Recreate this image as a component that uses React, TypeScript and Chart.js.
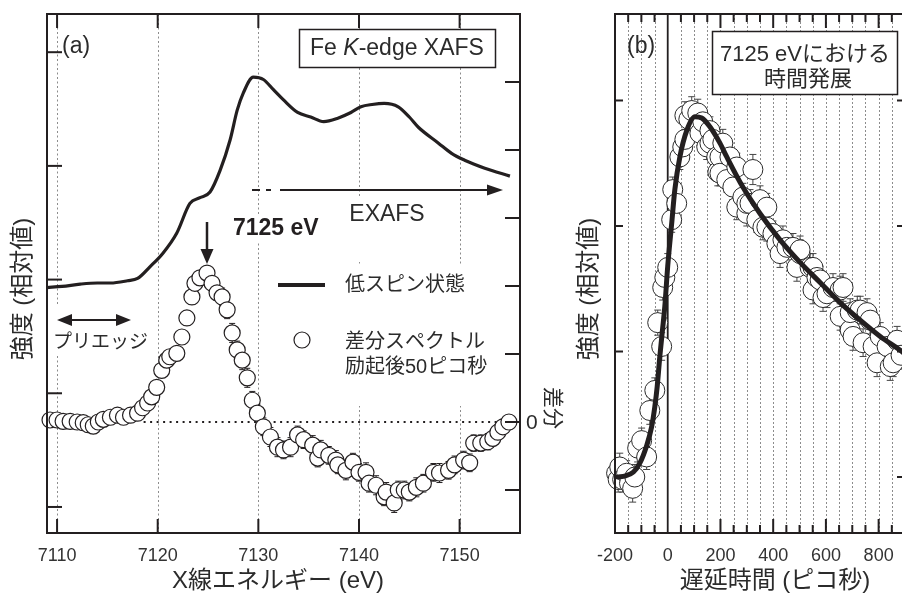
import { useEffect, useRef } from 'react';
import { Chart, registerables } from 'chart.js';

Chart.register(...registerables);

const FAMILY = "'Liberation Sans', 'Noto Sans CJK JP', sans-serif";
const INK = '#231f20';
const GRID = '#8c8c8c';
const TEXT = '#2b2b2b';
const font = (size: number, style = '') => `${style} ${size}px ${FAMILY}`.trim();

// ---------------- Panel (a): Fe K-edge XAFS ----------------
const ENERGY_MIN = 7109;
const ENERGY_MAX = 7156;
const ENERGY_TICKS = [7110, 7120, 7130, 7140, 7150];
const INTENSITY_TICKS = [0, 1, 2, 3, 4];
const DIFF_TICKS = [-1, 0, 1, 2, 3, 4, 5];
const ZERO_LINE_FROM_EV = 7118.6;

const XAFS_EV = [7109, 7110.5, 7112.3, 7114, 7115.3, 7117, 7118, 7119.2, 7120.5, 7121.9, 7123.2, 7124.2, 7125.2, 7126.2, 7127.2, 7127.9, 7128.5, 7129.5, 7130.5, 7131.5, 7132.5, 7133.9, 7135.2, 7136.5, 7137.9, 7139.2, 7140.2, 7141.3, 7142.5, 7143.9, 7145, 7145.9, 7147.9, 7149.2, 7150.5, 7152.5, 7155];
const XAFS_INTENSITY = [1.93, 1.94, 1.96, 1.97, 1.97, 1.99, 2.01, 2.11, 2.23, 2.41, 2.67, 2.72, 2.77, 2.96, 3.23, 3.49, 3.64, 3.78, 3.76, 3.67, 3.58, 3.47, 3.43, 3.39, 3.42, 3.47, 3.52, 3.54, 3.55, 3.52, 3.43, 3.34, 3.2, 3.11, 3.05, 2.98, 2.91];

const DIFF_EV = [7109.3, 7110.0, 7110.6, 7111.3, 7112.0, 7112.6, 7113.1, 7113.6, 7114.1, 7114.6, 7115.3, 7116.0, 7116.6, 7117.3, 7118.0, 7118.5, 7119.0, 7119.4, 7119.9, 7120.4, 7120.9, 7121.2, 7121.9, 7122.4, 7122.9, 7123.4, 7123.7, 7124.2, 7124.9, 7125.4, 7125.9, 7126.4, 7126.9, 7127.4, 7127.9, 7128.4, 7128.9, 7129.4, 7129.9, 7130.5, 7131.2, 7131.9, 7132.5, 7133.2, 7133.9, 7134.5, 7135.4, 7135.9, 7136.2, 7137.0, 7137.7, 7137.9, 7138.7, 7139.4, 7140.0, 7140.7, 7141.0, 7141.7, 7142.5, 7142.7, 7143.5, 7143.9, 7144.5, 7145.0, 7145.7, 7146.4, 7147.4, 7148.0, 7148.9, 7149.5, 7150.4, 7151.0, 7151.4, 7152.1, 7152.8, 7153.3, 7153.8, 7154.3, 7154.9];
const DIFF_SIGNAL = [0.03, 0.03, 0.01, 0.01, 0.0, -0.01, -0.04, -0.06, 0.0, 0.04, 0.07, 0.1, 0.07, 0.1, 0.13, 0.21, 0.28, 0.37, 0.51, 0.76, 0.91, 0.96, 1.01, 1.25, 1.53, 1.84, 2.04, 2.12, 2.19, 2.04, 1.9, 1.84, 1.65, 1.31, 1.06, 0.91, 0.65, 0.32, 0.13, -0.07, -0.22, -0.37, -0.41, -0.37, -0.19, -0.26, -0.34, -0.53, -0.41, -0.49, -0.56, -0.63, -0.71, -0.59, -0.74, -0.74, -0.9, -0.93, -1.1, -1.03, -1.19, -1.0, -1.0, -1.03, -0.96, -0.9, -0.74, -0.75, -0.71, -0.63, -0.56, -0.6, -0.31, -0.31, -0.29, -0.24, -0.15, -0.07, 0.0];
const DIFF_ERROR = [0.05, 0.05, 0.05, 0.05, 0.05, 0.05, 0.05, 0.05, 0.05, 0.05, 0.05, 0.05, 0.05, 0.05, 0.05, 0.06, 0.06, 0.06, 0.06, 0.06, 0.06, 0.06, 0.06, 0.06, 0.06, 0.06, 0.06, 0.06, 0.06, 0.08, 0.1, 0.13, 0.13, 0.14, 0.13, 0.14, 0.14, 0.13, 0.13, 0.13, 0.14, 0.14, 0.13, 0.14, 0.13, 0.13, 0.14, 0.13, 0.14, 0.13, 0.14, 0.13, 0.14, 0.13, 0.13, 0.14, 0.13, 0.14, 0.13, 0.14, 0.14, 0.13, 0.13, 0.13, 0.14, 0.13, 0.13, 0.14, 0.13, 0.13, 0.13, 0.13, 0.12, 0.12, 0.12, 0.11, 0.11, 0.11, 0.11];

// ---------------- Panel (b): time evolution at 7125 eV ----------------
const DELAY_MIN = -200;
const DELAY_MAX = 900;
const DELAY_LABEL_TICKS = [-200, 0, 200, 400, 600, 800];
const DELAY_MAJOR_TICKS = [200, 400, 600, 800];
const DELAY_MINOR_TICKS = [-150, -100, -50, 50, 100, 150, 250, 300, 350, 450, 500, 550, 650, 700, 750, 850];
const SIGNAL_MIN = -0.446;
const SIGNAL_MAX = 3.689;
const SIGNAL_TICKS = [0, 1, 2, 3];

const DELAY_PS = [-194, -188, -182, -171, -156, -145, -133, -125, -114, -99, -80, -68, -49, -38, -23, -19, -11, 0, 15, 19, 34, 46, 57, 65, 65, 80, 91, 114, 122, 133, 148, 160, 160, 171, 186, 190, 198, 198, 209, 224, 236, 247, 262, 262, 285, 300, 300, 312, 323, 338, 350, 361, 376, 376, 399, 414, 426, 437, 452, 475, 490, 502, 502, 540, 551, 551, 566, 578, 589, 604, 627, 654, 654, 665, 692, 692, 703, 719, 730, 741, 756, 768, 779, 794, 806, 832, 844, 855, 870, 885];
const DELAY_SIGNAL = [0.03, -0.02, 0.08, -0.02, 0.03, -0.05, -0.09, 0.0, 0.23, 0.29, 0.16, 0.53, 0.69, 1.23, 1.04, 1.51, 1.59, 1.67, 2.05, 2.29, 2.18, 2.55, 2.63, 2.69, 2.88, 2.85, 2.92, 2.9, 2.74, 2.83, 2.63, 2.76, 2.66, 2.69, 2.55, 2.43, 2.55, 2.42, 2.66, 2.37, 2.55, 2.31, 2.47, 2.15, 2.23, 2.1, 2.18, 2.18, 2.45, 2.05, 2.21, 1.99, 2.15, 1.99, 1.94, 1.86, 1.78, 1.89, 1.83, 1.83, 1.67, 1.78, 1.81, 1.67, 1.49, 1.67, 1.59, 1.57, 1.43, 1.46, 1.51, 1.49, 1.28, 1.51, 1.17, 1.31, 1.12, 1.33, 1.33, 1.07, 1.31, 1.25, 1.04, 0.91, 1.12, 1.04, 0.88, 0.91, 1.09, 0.97];
const DELAY_ERROR = [0.1, 0.1, 0.11, 0.1, 0.1, 0.1, 0.11, 0.1, 0.11, 0.1, 0.1, 0.11, 0.1, 0.1, 0.11, 0.1, 0.1, 0.11, 0.1, 0.1, 0.11, 0.1, 0.1, 0.11, 0.11, 0.11, 0.11, 0.11, 0.1, 0.11, 0.1, 0.11, 0.1, 0.11, 0.1, 0.11, 0.11, 0.1, 0.11, 0.1, 0.11, 0.1, 0.11, 0.1, 0.11, 0.1, 0.11, 0.11, 0.12, 0.1, 0.11, 0.1, 0.11, 0.11, 0.1, 0.11, 0.11, 0.11, 0.1, 0.11, 0.11, 0.11, 0.11, 0.11, 0.11, 0.11, 0.11, 0.11, 0.11, 0.11, 0.11, 0.11, 0.11, 0.11, 0.11, 0.11, 0.11, 0.11, 0.11, 0.11, 0.11, 0.11, 0.11, 0.11, 0.11, 0.11, 0.11, 0.11, 0.11, 0.11];

const FIT_PS = [-190, -160, -130, -106, -80, -61, -49, -40, -30, -20, -11, 0, 15, 27, 46, 72, 103, 129, 160, 198, 224, 285, 350, 426, 502, 578, 654, 730, 806, 882, 900];
const FIT_SIGNAL = [0.0, 0.01, 0.04, 0.11, 0.25, 0.4, 0.56, 0.72, 0.96, 1.17, 1.36, 1.68, 2.02, 2.29, 2.55, 2.76, 2.87, 2.86, 2.79, 2.66, 2.55, 2.31, 2.1, 1.89, 1.71, 1.55, 1.39, 1.25, 1.12, 1.01, 0.98];

// ---------------- drawing helpers ----------------
const B_LEFT = 560;

function seg(ctx: CanvasRenderingContext2D, x1: number, y1: number, x2: number, y2: number) {
  ctx.beginPath();
  ctx.moveTo(x1, y1);
  ctx.lineTo(x2, y2);
  ctx.stroke();
}
function tri(ctx: CanvasRenderingContext2D, p: number[]) {
  ctx.beginPath();
  ctx.moveTo(p[0], p[1]);
  ctx.lineTo(p[2], p[3]);
  ctx.lineTo(p[4], p[5]);
  ctx.closePath();
  ctx.fill();
}
function txt(ctx: CanvasRenderingContext2D, s: string, x: number, y: number, f: string, align: CanvasTextAlign = 'left', color = TEXT) {
  ctx.font = f;
  ctx.fillStyle = color;
  ctx.textAlign = align;
  ctx.textBaseline = 'middle';
  ctx.fillText(s, x, y);
}
function rtxt(ctx: CanvasRenderingContext2D, s: string, cx: number, cy: number, f: string, angle: number) {
  ctx.save();
  ctx.translate(cx, cy);
  ctx.rotate(angle);
  txt(ctx, s, 0, 0, f, 'center');
  ctx.restore();
}
function errorBars(ctx: CanvasRenderingContext2D, xs: any, ys: any, X: number[], Y: number[], E: number[], cap: number, color: string) {
  ctx.strokeStyle = color;
  ctx.lineWidth = 1;
  X.forEach((xv, i) => {
    const px = xs.getPixelForValue(xv);
    const t = ys.getPixelForValue(Y[i] + E[i]);
    const b = ys.getPixelForValue(Y[i] - E[i]);
    seg(ctx, px, t, px, b);
    seg(ctx, px - cap, t, px + cap, t);
    seg(ctx, px - cap, b, px + cap, b);
  });
}

const panelAPlugin = {
  id: 'panelA',
  beforeDatasetsDraw(chart: any) {
    const { ctx, chartArea: a, scales } = chart;
    const x = scales.x, yR = scales.yR;
    ctx.save();
    ctx.strokeStyle = GRID;
    ctx.lineWidth = 1;
    ctx.setLineDash([2, 2.5]);
    ENERGY_TICKS.forEach((v) => {
      const px = Math.round(x.getPixelForValue(v)) + 0.5;
      seg(ctx, px, a.top, px, a.bottom);
    });
    ctx.setLineDash([]);
    // white backgrounds behind annotations
    ctx.fillStyle = '#fff';
    ctx.fillRect(340, 196, 92, 66);
    ctx.fillRect(272, 266, 228, 140);
    ctx.fillRect(50, 306, 98, 50);
    ctx.fillRect(231, 215, 94, 28);
    // zero line of the difference spectrum
    const y0 = yR.getPixelForValue(0);
    ctx.strokeStyle = INK;
    ctx.lineWidth = 2;
    ctx.setLineDash([2, 4.5]);
    seg(ctx, x.getPixelForValue(ZERO_LINE_FROM_EV), y0, a.right, y0);
    ctx.setLineDash([]);
    errorBars(ctx, x, yR, DIFF_EV, DIFF_SIGNAL, DIFF_ERROR, 3, INK);
    ctx.restore();
  },
  afterDraw(chart: any) {
    const { ctx, chartArea: a, scales } = chart;
    const x = scales.x, yL = scales.yL, yR = scales.yR;
    ctx.save();
    ctx.strokeStyle = INK;
    ctx.fillStyle = INK;
    ctx.lineWidth = 2;
    ctx.strokeRect(a.left, a.top, a.right - a.left, a.bottom - a.top);
    ENERGY_TICKS.forEach((v) => {
      const px = x.getPixelForValue(v);
      seg(ctx, px, a.top, px, a.top + 14);
      seg(ctx, px, a.bottom, px, a.bottom - 14);
    });
    INTENSITY_TICKS.forEach((v) => {
      const py = yL.getPixelForValue(v);
      seg(ctx, a.left, py, a.left + 15, py);
    });
    DIFF_TICKS.forEach((v) => {
      const py = yR.getPixelForValue(v);
      seg(ctx, a.right, py, a.right - 15, py);
    });

    // panel label
    txt(ctx, '(a)', 62, 47, font(23));
    // title box
    ctx.fillStyle = '#fff';
    ctx.fillRect(299, 29, 196, 38);
    ctx.lineWidth = 1.5;
    ctx.strokeStyle = INK;
    ctx.strokeRect(299.5, 29.5, 196, 38);
    ctx.font = font(23);
    const w1 = ctx.measureText('Fe ').width;
    ctx.font = font(23, 'italic');
    const w2 = ctx.measureText('K').width;
    ctx.font = font(23);
    const w3 = ctx.measureText('-edge XAFS').width;
    const sx = 397 - (w1 + w2 + w3) / 2;
    txt(ctx, 'Fe ', sx, 49, font(23));
    txt(ctx, 'K', sx + w1, 49, font(23, 'italic'));
    txt(ctx, '-edge XAFS', sx + w1 + w2, 49, font(23));

    // EXAFS arrow
    ctx.strokeStyle = INK;
    ctx.fillStyle = INK;
    ctx.lineWidth = 2;
    seg(ctx, 252, 190, 260, 190);
    seg(ctx, 266, 190, 271, 190);
    seg(ctx, 280, 190, 490, 190);
    tri(ctx, [487, 184.5, 503, 190, 487, 195.5]);
    txt(ctx, 'EXAFS', 387, 215, font(23), 'center');

    // 7125 eV marker
    txt(ctx, '7125 eV', 233, 229, font(23, 'bold'), 'left', INK);
    ctx.strokeStyle = INK;
    ctx.lineWidth = 2.5;
    seg(ctx, 207, 222, 207, 252);
    ctx.fillStyle = INK;
    tri(ctx, [200.5, 249, 213.5, 249, 207, 264]);

    // legend
    ctx.lineWidth = 4;
    seg(ctx, 278, 285, 325, 285);
    txt(ctx, '低スピン状態', 345, 285, font(20));
    ctx.beginPath();
    ctx.arc(302, 340, 8, 0, Math.PI * 2);
    ctx.fillStyle = '#fff';
    ctx.fill();
    ctx.lineWidth = 1.2;
    ctx.strokeStyle = INK;
    ctx.stroke();
    txt(ctx, '差分スペクトル', 345, 342, font(20));
    txt(ctx, '励起後50ピコ秒', 345, 367, font(20));

    // pre-edge arrow
    ctx.fillStyle = INK;
    ctx.strokeStyle = INK;
    ctx.lineWidth = 2;
    seg(ctx, 66, 320, 122, 320);
    tri(ctx, [57, 320, 72, 314, 72, 326]);
    tri(ctx, [131, 320, 116, 314, 116, 326]);
    txt(ctx, 'プリエッジ', 53, 343, font(19));

    // right axis label
    txt(ctx, '0', 526, 423, font(21));
    rtxt(ctx, '差分', 552, 408, font(21), Math.PI / 2);

    // axis titles
    rtxt(ctx, '強度 (相対値)', 23, 289, font(24), -Math.PI / 2);
    txt(ctx, 'X線エネルギー (eV)', 278, 581, font(24), 'center');
    ctx.restore();
  },
};

const panelBPlugin = {
  id: 'panelB',
  beforeDatasetsDraw(chart: any) {
    const { ctx, chartArea: a, scales } = chart;
    const x = scales.x, y = scales.y;
    ctx.save();
    ctx.strokeStyle = GRID;
    ctx.lineWidth = 1;
    ctx.setLineDash([2, 2]);
    [...DELAY_MINOR_TICKS, ...DELAY_MAJOR_TICKS].forEach((v) => {
      const px = Math.round(x.getPixelForValue(v)) + 0.5;
      seg(ctx, px, a.top, px, a.bottom);
    });
    ctx.setLineDash([]);
    ctx.strokeStyle = INK;
    ctx.lineWidth = 1.8;
    const p0 = x.getPixelForValue(0);
    seg(ctx, p0, a.top, p0, a.bottom);
    errorBars(ctx, x, y, DELAY_PS, DELAY_SIGNAL, DELAY_ERROR, 3.5, '#444');
    ctx.restore();
  },
  afterDraw(chart: any) {
    const { ctx, chartArea: a, scales } = chart;
    const x = scales.x, y = scales.y;
    ctx.save();
    ctx.strokeStyle = INK;
    ctx.lineWidth = 2;
    ctx.strokeRect(a.left, a.top, a.right - a.left, a.bottom - a.top);
    DELAY_MINOR_TICKS.forEach((v) => {
      const px = x.getPixelForValue(v);
      seg(ctx, px, a.top, px, a.top + 8);
      seg(ctx, px, a.bottom, px, a.bottom - 8);
    });
    DELAY_MAJOR_TICKS.forEach((v) => {
      const px = x.getPixelForValue(v);
      seg(ctx, px, a.top, px, a.top + 14);
      seg(ctx, px, a.bottom, px, a.bottom - 14);
    });
    SIGNAL_TICKS.forEach((v) => {
      const py = y.getPixelForValue(v);
      seg(ctx, a.left, py, a.left + 8, py);
      seg(ctx, a.right, py, a.right - 8, py);
    });

    ctx.translate(-B_LEFT, 0);
    txt(ctx, '(b)', 627, 47, font(23));
    ctx.fillStyle = '#fff';
    ctx.fillRect(712, 31, 185, 63);
    ctx.lineWidth = 1.5;
    ctx.strokeStyle = INK;
    ctx.strokeRect(712.5, 31.5, 185, 63);
    txt(ctx, '7125 eVにおける', 805, 55, font(22), 'center');
    txt(ctx, '時間発展', 808, 80, font(22), 'center');
    rtxt(ctx, '強度 (相対値)', 589, 289, font(24), -Math.PI / 2);
    txt(ctx, '遅延時間 (ピコ秒)', 775, 581, font(24), 'center');
    ctx.restore();
  },
};

const bottomAxis = (min: number, max: number, ticks: number[]) => ({
  type: 'linear' as const,
  min,
  max,
  afterBuildTicks: (s: any) => {
    s.ticks = ticks.map((v) => ({ value: v }));
  },
  afterFit: (s: any) => {
    s.height = 61;
  },
  grid: { display: false, drawTicks: false },
  border: { display: false },
  ticks: {
    font: { family: FAMILY, size: 18 },
    color: '#333',
    padding: 12,
    maxRotation: 0,
    autoSkip: false,
    callback: (v: any) => String(v),
  },
});

export default function App() {
  const refA = useRef<HTMLCanvasElement>(null);
  const refB = useRef<HTMLCanvasElement>(null);

  useEffect(() => {
    const chartA = new Chart(refA.current!, {
      type: 'line',
      data: {
        datasets: [
          {
            data: XAFS_EV.map((e, i) => ({ x: e, y: XAFS_INTENSITY[i] })),
            yAxisID: 'yL',
            borderColor: INK,
            borderWidth: 3.2,
            pointRadius: 0,
            cubicInterpolationMode: 'monotone',
            borderJoinStyle: 'round',
          },
          {
            data: DIFF_EV.map((e, i) => ({ x: e, y: DIFF_SIGNAL[i] })),
            yAxisID: 'yR',
            showLine: false,
            pointRadius: 8,
            pointBackgroundColor: '#fff',
            pointBorderColor: INK,
            pointBorderWidth: 1.2,
            clip: false,
          } as any,
        ],
      },
      options: {
        responsive: false,
        animation: false,
        devicePixelRatio: 1,
        layout: { padding: { left: 47, right: 55, top: 14, bottom: 0 } },
        plugins: { legend: { display: false }, tooltip: { enabled: false } },
        events: [],
        scales: {
          x: bottomAxis(ENERGY_MIN, ENERGY_MAX, ENERGY_TICKS),
          yL: { type: 'linear', display: false, min: -0.229, max: 4.336 },
          yR: { type: 'linear', display: false, min: -1.632, max: 6.0 },
        },
      } as any,
      plugins: [panelAPlugin],
    });

    const chartB = new Chart(refB.current!, {
      type: 'line',
      data: {
        datasets: [
          {
            data: FIT_PS.map((t, i) => ({ x: t, y: FIT_SIGNAL[i] })),
            borderColor: INK,
            borderWidth: 5,
            pointRadius: 0,
            cubicInterpolationMode: 'monotone',
            borderJoinStyle: 'round',
            borderCapStyle: 'round',
          },
          {
            data: DELAY_PS.map((t, i) => ({ x: t, y: DELAY_SIGNAL[i] })),
            showLine: false,
            pointRadius: 10,
            pointBackgroundColor: '#fff',
            pointBorderColor: '#2a2a2a',
            pointBorderWidth: 1,
            clip: false,
          } as any,
        ],
      },
      options: {
        responsive: false,
        animation: false,
        devicePixelRatio: 1,
        layout: { padding: { left: 55, right: 15, top: 14, bottom: 0 } },
        plugins: { legend: { display: false }, tooltip: { enabled: false } },
        events: [],
        scales: {
          x: bottomAxis(DELAY_MIN, DELAY_MAX, DELAY_LABEL_TICKS),
          y: { type: 'linear', display: false, min: SIGNAL_MIN, max: SIGNAL_MAX },
        },
      } as any,
      plugins: [panelBPlugin],
    });

    return () => {
      chartA.destroy();
      chartB.destroy();
    };
  }, []);

  return (
    <div style={{ position: 'absolute', left: 0, top: 0, width: 902, height: 594, overflow: 'hidden', background: '#fff' }}>
      <canvas ref={refA} width={575} height={594} style={{ position: 'absolute', left: 0, top: 0 }} />
      <canvas ref={refB} width={360} height={594} style={{ position: 'absolute', left: B_LEFT, top: 0 }} />
    </div>
  );
}
